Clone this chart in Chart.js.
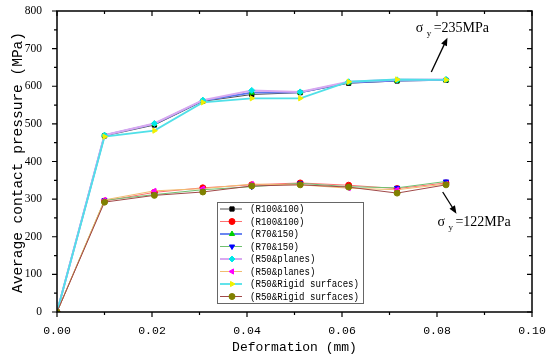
<!DOCTYPE html>
<html>
<head>
<meta charset="utf-8">
<script src="https://cdn.jsdelivr.net/npm/chart.js@4/dist/chart.umd.min.js"></script>
<style>
html, body { margin: 0; padding: 0; background: #fff; }
canvas { display: block; }
</style>
</head>
<body>
<canvas id="grafica" width="550" height="361"></canvas>
<script>
// deformation (mm) at each load step
const deformacion = [0, 0.01, 0.0205, 0.0307, 0.041, 0.0512, 0.0614, 0.0716, 0.0819];

const nombres = ["(R100&100)", "(R100&100)", "(R70&150)", "(R70&150)",
    "(R50&planes)", "(R50&planes)", "(R50&Rigid surfaces)", "(R50&Rigid surfaces)"];

// average contact pressure (MPa)
const r100a = [0, 468, 497, 560, 578, 583, 608, 614, 616];
const r100b = [0, 295, 318, 330, 338, 343, 337, 328, 343];
const r70a = [0, 470, 500, 562, 583, 584, 610, 615, 617];
const r70b = [0, 297, 312, 325, 333, 342, 333, 330, 347];
const planosA = [0, 470, 501, 563, 589, 585, 612, 617, 618];
const planosB = [0, 298, 322, 328, 340, 338, 329, 325, 340];
const rigidoA = [0, 466, 482, 557, 568, 568, 612, 618, 617];
const rigidoB = [0, 292, 310, 319, 335, 338, 332, 316, 338];

const ticksX = [0, 0.02, 0.04, 0.06, 0.08, 0.1];
const ticksY = [0, 100, 200, 300, 400, 500, 600, 700, 800];

const series = [r100a, r100b, r70a, r70b, planosA, planosB, rigidoA, rigidoB];
const colorLinea = ["#505050", "#ff7070", "#5a78f0", "#70c070", "#d8a8f0", "#f0bc70", "#50e0e8", "#a04848"];
const colorMarca = ["#000000", "#ff0000", "#00d000", "#0000ff", "#00e8e8", "#ff00ff", "#f0f000", "#808000"];
const formaMarca = ["rect", "circle", "triangle", "triangle", "rectRot", "triangle", "triangle", "circle"];
const giroMarca = [0, 0, 0, 180, 0, 270, 90, 0];
const grosor = [1, 1, 1.8, 1, 2, 1, 1.8, 1];

const datasets = series.map((valores, i) => ({
    label: nombres[i],
    data: valores.map((v, j) => ({ x: deformacion[j], y: v })),
    borderColor: colorLinea[i],
    borderWidth: grosor[i],
    pointStyle: formaMarca[i],
    rotation: giroMarca[i],
    pointRadius: 3,
    pointBackgroundColor: colorMarca[i],
    pointBorderColor: colorMarca[i],
    pointBorderWidth: 1,
    tension: 0,
    order: 8 - i
}));

const FUENTE_MONO = "'Liberation Mono', 'DejaVu Sans Mono', monospace";
const FUENTE_SERIF = "'Liberation Serif', 'DejaVu Serif', serif";

function textoSigma(ctx, x, y, resto) {
    ctx.fillStyle = "#000";
    ctx.textAlign = "left";
    ctx.textBaseline = "alphabetic";
    ctx.font = "14px " + FUENTE_SERIF;
    ctx.fillText("σ", x, y);
    ctx.font = "9px " + FUENTE_SERIF;
    ctx.fillText("y", x + 11, y + 4);
    ctx.font = "14px " + FUENTE_SERIF;
    ctx.fillText(resto, x + 18, y);
}

function flecha(ctx, x1, y1, x2, y2) {
    const ang = Math.atan2(y2 - y1, x2 - x1);
    ctx.strokeStyle = "#000";
    ctx.fillStyle = "#000";
    ctx.lineWidth = 1.3;
    ctx.beginPath();
    ctx.moveTo(x1, y1);
    ctx.lineTo(x2 - 6 * Math.cos(ang), y2 - 6 * Math.sin(ang));
    ctx.stroke();
    ctx.beginPath();
    ctx.moveTo(x2, y2);
    ctx.lineTo(x2 - 8 * Math.cos(ang) + 3.2 * Math.sin(ang), y2 - 8 * Math.sin(ang) - 3.2 * Math.cos(ang));
    ctx.lineTo(x2 - 8 * Math.cos(ang) - 3.2 * Math.sin(ang), y2 - 8 * Math.sin(ang) + 3.2 * Math.cos(ang));
    ctx.closePath();
    ctx.fill();
}

const marcoYExtras = {
    id: "marcoYExtras",
    afterDraw(chart) {
        const ctx = chart.ctx;
        const area = chart.chartArea;
        const sx = chart.scales.x;
        const sy = chart.scales.y;
        ctx.save();

        // frame
        ctx.strokeStyle = "#000";
        ctx.lineWidth = 1.5;
        ctx.strokeRect(area.left, area.top, area.right - area.left, area.bottom - area.top);

        // ticks: outside on bottom/left, inside on top/right
        ctx.lineWidth = 1.2;
        ctx.beginPath();
        for (let i = 0; i <= 10; i++) {
            const px = sx.getPixelForValue(i / 100);
            const largo = i % 2 === 0 ? 5 : 3;
            ctx.moveTo(px, area.bottom);
            ctx.lineTo(px, area.bottom + largo);
            ctx.moveTo(px, area.top);
            ctx.lineTo(px, area.top + largo);
        }
        for (let i = 0; i <= 16; i++) {
            const py = sy.getPixelForValue(i * 50);
            const largo = i % 2 === 0 ? 5 : 3;
            ctx.moveTo(area.left, py);
            ctx.lineTo(area.left - largo, py);
            ctx.moveTo(area.right, py);
            ctx.lineTo(area.right - largo, py);
        }
        ctx.stroke();

        // axis titles
        ctx.fillStyle = "#000";
        ctx.textAlign = "center";
        ctx.textBaseline = "middle";
        ctx.font = "13px " + FUENTE_MONO;
        ctx.fillText("Deformation (mm)", (area.left + area.right) / 2, 348);
        ctx.save();
        ctx.translate(18, (area.top + area.bottom) / 2 + 1);
        ctx.rotate(-Math.PI / 2);
        ctx.font = "14.5px " + FUENTE_MONO;
        ctx.fillText("Average contact pressure (MPa)", 0, 0, 264);
        ctx.restore();

        // legend
        const caja = { x: 217, y: 202, w: 146, h: 101 };
        ctx.fillStyle = "#fff";
        ctx.fillRect(caja.x, caja.y, caja.w, caja.h);
        ctx.strokeStyle = "#666";
        ctx.lineWidth = 1;
        ctx.strokeRect(caja.x + 0.5, caja.y + 0.5, caja.w, caja.h);
        chart.data.datasets.forEach((ds, i) => {
            const yy = caja.y + 7 + i * 12.5;
            ctx.strokeStyle = ds.borderColor;
            ctx.lineWidth = ds.borderWidth;
            ctx.beginPath();
            ctx.moveTo(caja.x + 3, yy);
            ctx.lineTo(caja.x + 25, yy);
            ctx.stroke();
            ctx.fillStyle = ds.pointBackgroundColor;
            ctx.strokeStyle = ds.pointBorderColor;
            ctx.lineWidth = 1;
            Chart.helpers.drawPoint(ctx, {
                pointStyle: ds.pointStyle, rotation: ds.rotation, radius: 3, borderWidth: 1
            }, caja.x + 15, yy);
            ctx.fillStyle = "#000";
            ctx.textAlign = "left";
            ctx.textBaseline = "middle";
            ctx.font = "11px " + FUENTE_MONO;
            ctx.fillText(ds.label, caja.x + 33, yy + 0.5, ds.label.length * 5.45);
        });

        // yield stress notes
        textoSigma(ctx, sx.getPixelForValue(0.0755), sy.getPixelForValue(744), "=235MPa");
        flecha(ctx, sx.getPixelForValue(0.0788), sy.getPixelForValue(638), sx.getPixelForValue(0.0822), sy.getPixelForValue(729));
        textoSigma(ctx, sx.getPixelForValue(0.0801), sy.getPixelForValue(228), "=122MPa");
        flecha(ctx, sx.getPixelForValue(0.0812), sy.getPixelForValue(319), sx.getPixelForValue(0.0841), sy.getPixelForValue(261));

        ctx.restore();
    }
};

new Chart(document.getElementById("grafica").getContext("2d"), {
    type: "line",
    data: { datasets: datasets },
    options: {
        responsive: false,
        animation: false,
        layout: { padding: { top: 11, right: 18, left: 0, bottom: 0 } },
        plugins: {
            legend: { display: false },
            tooltip: { enabled: false }
        },
        scales: {
            x: {
                type: "linear",
                min: 0,
                max: 0.1,
                afterFit: s => {
                    s.height = 49;
                    s.paddingLeft = 0;
                    s.paddingRight = 0;
                },
                afterBuildTicks: s => { s.ticks = ticksX.map(v => ({ value: v })); },
                grid: { display: false, drawTicks: false },
                border: { display: false },
                ticks: {
                    padding: 12,
                    color: "#000",
                    font: { family: FUENTE_MONO, size: 11.5 },
                    maxRotation: 0,
                    callback: v => v.toFixed(2)
                }
            },
            y: {
                type: "linear",
                min: 0,
                max: 800,
                afterFit: s => {
                    s.width = 57;
                    s.paddingTop = 0;
                    s.paddingBottom = 0;
                },
                afterBuildTicks: s => { s.ticks = ticksY.map(v => ({ value: v })); },
                grid: { display: false, drawTicks: false },
                border: { display: false },
                ticks: {
                    padding: 15,
                    color: "#000",
                    font: { family: FUENTE_SERIF, size: 11.5 }
                }
            }
        }
    },
    plugins: [marcoYExtras]
});
</script>
</body>
</html>
